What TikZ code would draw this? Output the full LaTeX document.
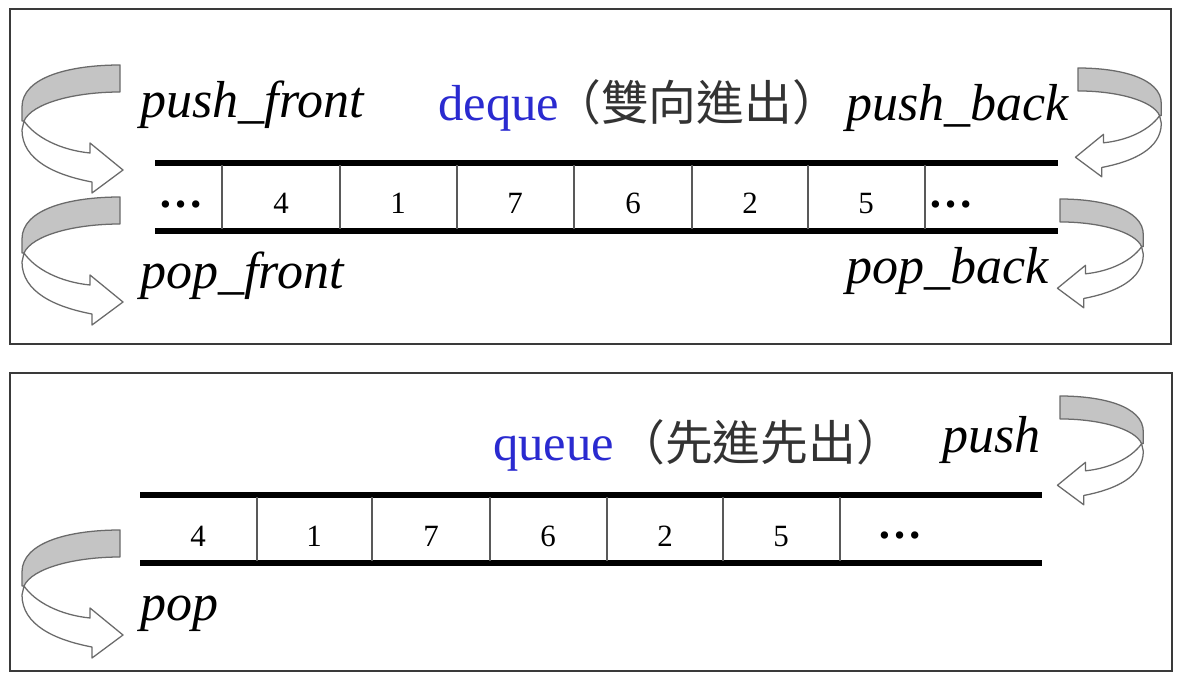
\documentclass[tikz,border=0pt]{standalone}
\usepackage{fontspec}
\setmainfont{Liberation Serif}
\newfontfamily\cjk{Noto Sans CJK TC}
\definecolor{frame}{HTML}{3A3A3A}
\definecolor{qblue}{HTML}{2A2AD0}
\definecolor{band}{HTML}{C4C4C4}
\definecolor{edge}{HTML}{6A6A6A}
\definecolor{cjkgray}{HTML}{333333}
\begin{document}
\begin{tikzpicture}[x=0.025cm,y=-0.025cm,
 panel/.style={draw=frame,line width=2pt},
 rail/.style={line width=3.6pt,black},
 divider/.style={line width=1.1pt,black!65},
 cell/.style={inner sep=0pt,anchor=base,font=\fontsize{22}{26}\selectfont},
 dots/.style={inner sep=0pt,anchor=base,font=\fontsize{32}{36}\selectfont\bfseries},
 oplabel/.style={inner sep=0pt,anchor=base west,font=\fontsize{37}{40}\selectfont\itshape},
 title/.style={inner sep=0pt,anchor=base west,font=\fontsize{36}{40}\selectfont,text=qblue},
 cjktitle/.style={inner sep=0pt,anchor=base west,font=\fontsize{34}{40}\selectfont\cjk,text=cjkgray},
 ribbon/.pic={
   \draw[edge,fill=white,line width=0.9pt,line join=round]
     (-96,56) .. controls (-85,72) and (-60,85) .. (-30,88) -- (-30,78) -- (3,105)
     -- (-28,128) -- (-28,117) .. controls (-65,110) and (-98,95) .. (-98,65) -- cycle;
   \draw[edge,fill=band,line width=0.9pt,line join=round]
     (0,0) .. controls (-50,0) and (-98,12) .. (-98,42) -- (-98,56) -- (-96,56)
     .. controls (-88,38) and (-45,27) .. (0,27) -- cycle;
 }
]
\useasboundingbox (0,0) rectangle (1180,678);
\fill[white] (0,0) rectangle (1180,678);
% panels
\draw[panel] (10,9) rectangle (1171,344);
\draw[panel] (10,373) rectangle (1172,671);

% ---------------- deque ----------------
\draw[rail] (155,163) -- (1058,163);
\draw[rail] (155,231) -- (1058,231);
\foreach \x in {222,340,457,574,692,808,925}
  \draw[divider] (\x,165) -- (\x,229);
\node[dots] (d0) at (181,207) {…};
\node[cell] (d1) at (281,213) {4};
\node[cell] (d2) at (398,213) {1};
\node[cell] (d3) at (515,213) {7};
\node[cell] (d4) at (633,213) {6};
\node[cell] (d5) at (750,213) {2};
\node[cell] (d6) at (866,213) {5};
\node[dots] (d7) at (951,207) {…};

\node[title] (dq) at (438,120) {deque};
\node[cjktitle] (dqc) at (553,120) {（雙向進出）};
\node[oplabel] (pf) at (140,117) {push\_front};
\node[oplabel] (pof) at (140,288) {pop\_front};
\node[oplabel] (pb) at (846,120) {push\_back};
\node[oplabel] (pob) at (846,283) {pop\_back};

\pic at (120,65) {ribbon};
\pic at (120,197) {ribbon};
\pic[xscale=-0.85,yscale=0.85] at (1078,68) {ribbon};
\pic[xscale=-0.85,yscale=0.85] at (1060,199) {ribbon};

% ---------------- queue ----------------
\draw[rail] (140,495) -- (1042,495);
\draw[rail] (140,563) -- (1042,563);
\foreach \x in {257,372,490,607,723,840}
  \draw[divider] (\x,497) -- (\x,561);
\node[cell] (q1) at (198,546) {4};
\node[cell] (q2) at (314,546) {1};
\node[cell] (q3) at (431,546) {7};
\node[cell] (q4) at (548,546) {6};
\node[cell] (q5) at (665,546) {2};
\node[cell] (q6) at (781,546) {5};
\node[dots] (q7) at (900,538) {…};

\node[title] (qu) at (493,460) {queue};
\node[cjktitle] (quc) at (617,460) {（先進先出）};
\node[oplabel] (ps) at (942,452) {push};
\node[oplabel] (pp) at (140,620) {pop};

\pic at (120,530) {ribbon};
\pic[xscale=-0.85,yscale=0.85] at (1060,396) {ribbon};
\end{tikzpicture}
\end{document}
